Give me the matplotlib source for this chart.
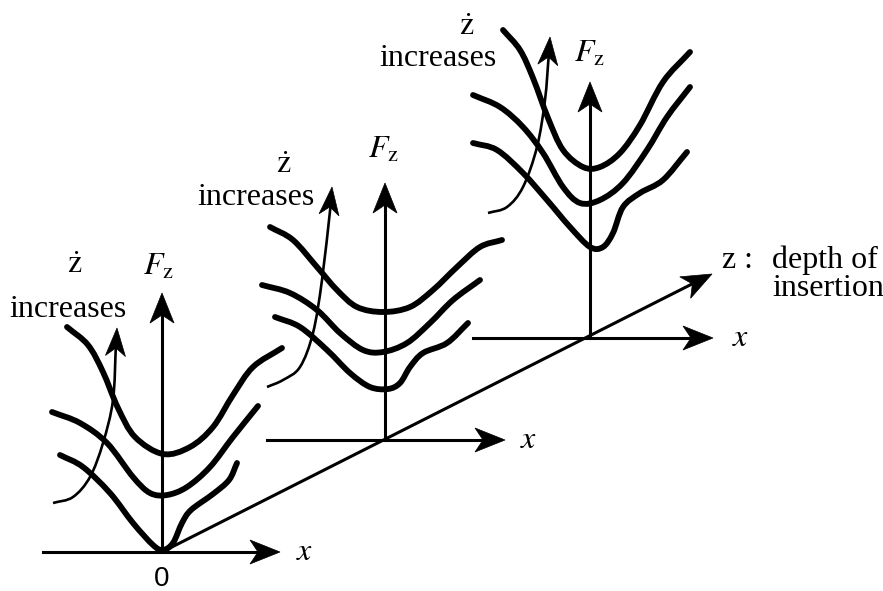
import numpy as np
import matplotlib.pyplot as plt
from matplotlib.path import Path
from matplotlib.patches import PathPatch, Polygon

plt.rcParams['mathtext.fontset'] = 'stix'
plt.rcParams['font.family'] = ['Liberation Serif', 'DejaVu Serif']

# picture coordinates (pixels, y downwards)
origins = [(162, 552), (385, 440), (590, 338)]
x_axis_left = [43, 267, 473]
x_axis_right = [280, 505, 713]
fz_axis_top = [293, 183, 82]
depth_start = (162, 552)
depth_tip = (712, 274)

# force curves, three per group (top, middle, bottom)
g1_top = [(67, 327), (88, 345), (103, 372), (118, 408), (135, 437), (163, 454), (190, 447),
          (213, 427), (233, 395), (253, 367), (282, 348)]
g1_mid = [(52, 412), (80, 423), (107, 443), (133, 477), (150, 493), (167, 495), (187, 487),
          (210, 467), (233, 437), (258, 406)]
g1_bot = [(60, 455), (83, 467), (110, 493), (133, 523), (153, 545), (163, 550), (173, 543),
          (182, 523), (191, 510), (213, 494), (229, 480), (237, 463)]
g2_top = [(270, 227), (293, 240), (317, 267), (337, 290), (357, 307), (383, 312), (410, 307),
          (433, 290), (457, 267), (480, 247), (502, 240)]
g2_mid = [(262, 285), (290, 293), (317, 310), (340, 333), (363, 350), (383, 352), (407, 343),
          (430, 323), (453, 300), (480, 280)]
g2_bot = [(275, 317), (300, 327), (327, 350), (350, 373), (370, 387), (388, 389), (400, 383),
          (410, 367), (423, 353), (447, 343), (468, 323)]
g3_top = [(503, 30), (520, 50), (533, 78), (548, 118), (563, 150), (583, 167), (600, 167),
          (620, 153), (640, 125), (663, 82), (690, 52)]
g3_mid = [(473, 95), (500, 107), (523, 127), (543, 153), (563, 187), (580, 203), (600, 200),
          (623, 183), (647, 150), (667, 117), (690, 87)]
g3_bot = [(473, 143), (497, 150), (523, 173), (547, 200), (570, 227), (590, 247), (603, 247),
          (613, 233), (623, 207), (640, 193), (663, 180), (687, 152)]

# "z-dot increases" arrows
g1_arrow = [(53, 503), (73, 497), (90, 477), (103, 443), (113, 400), (117, 328)]
g2_arrow = [(267, 387), (283, 380), (300, 367), (313, 333), (322, 280), (332, 187)]
g3_arrow = [(488, 213), (507, 207), (523, 187), (537, 147), (545, 100), (550, 37)]

# labels
zdot_pos = [(75, 273), (284, 173), (467, 35)]
incr_pos = [(68, 317), (256, 205), (438, 66)]
fz_pos = [(143, 275), (368, 158), (574, 62)]
xlab_pos = [(296, 552), (520, 440), (732, 338)]


def smooth_path(pts):
    # catmull-rom through the points, drawn as cubic beziers
    P = np.array(pts, dtype=float)
    n = len(P)
    ext = np.vstack([2 * P[0] - P[1], P, 2 * P[-1] - P[-2]])
    verts = [P[0]]
    codes = [Path.MOVETO]
    for i in range(n - 1):
        p0, p1, p2, p3 = ext[i], ext[i + 1], ext[i + 2], ext[i + 3]
        verts += [p1 + (p2 - p0) / 6, p2 - (p3 - p1) / 6, p2]
        codes += [Path.CURVE4] * 3
    return Path(verts, codes)


def arrow_head(ax, tip, frm, L=30, W=12, notch=8):
    tip = np.array(tip, dtype=float)
    d = tip - np.array(frm, dtype=float)
    d = d / np.hypot(*d)
    nrm = np.array([-d[1], d[0]])
    pts = [tip, tip - L * d + W * nrm, tip - (L - notch) * d, tip - L * d - W * nrm]
    ax.add_patch(Polygon(pts, closed=True, facecolor='black', edgecolor='black', lw=0.5))


fig = plt.figure(figsize=(8.83, 5.91), dpi=100)
ax = fig.add_axes([0, 0, 1, 1])
ax.set_xlim(0, 883)
ax.set_ylim(591, 0)
ax.axis('off')

axis_lw = 2.2
curve_lw = 4.2

# depth axis
ax.plot([depth_start[0], depth_tip[0] - 20], [depth_start[1], depth_tip[1] + 10],
        color='black', lw=axis_lw)
arrow_head(ax, depth_tip, depth_start)

for i in range(3):
    ox, oy = origins[i]
    ax.plot([x_axis_left[i], x_axis_right[i] - 15], [oy, oy], color='black', lw=axis_lw)
    arrow_head(ax, (x_axis_right[i], oy), (ox, oy))
    ax.plot([ox, ox], [oy, fz_axis_top[i] + 15], color='black', lw=axis_lw)
    arrow_head(ax, (ox, fz_axis_top[i]), (ox, oy))

for c in [g1_top, g1_mid, g1_bot, g2_top, g2_mid, g2_bot, g3_top, g3_mid, g3_bot]:
    ax.add_patch(PathPatch(smooth_path(c), fill=False, edgecolor='black', lw=curve_lw,
                           capstyle='round', joinstyle='round'))

for a in [g1_arrow, g2_arrow, g3_arrow]:
    ax.add_patch(PathPatch(smooth_path(a[:-1] + [(a[-1][0] - 1, a[-1][1] + 15)]), fill=False,
                           edgecolor='black', lw=1.9))
    arrow_head(ax, a[-1], a[-2], L=28, W=10)

fs = 23
for i in range(3):
    ax.text(*zdot_pos[i], r'$\dot{\mathrm{z}}$', fontsize=fs, ha='center', va='baseline')
    ax.text(*incr_pos[i], 'increases', fontsize=fs, ha='center', va='baseline')
    ax.text(*fz_pos[i], r'$F_{\mathrm{z}}$', fontsize=fs, ha='left', va='baseline')
    ax.text(*xlab_pos[i], r'$x$', fontsize=fs, ha='left', va='center')

ax.text(162, 586, '0', fontsize=20, ha='center', va='baseline', family='Liberation Sans')
ax.text(722, 268, 'z :', fontsize=fs, ha='left', va='baseline')
ax.text(772, 268, 'depth of', fontsize=fs, ha='left', va='baseline')
ax.text(772, 296, 'insertion', fontsize=fs, ha='left', va='baseline')

fig.savefig('out.png', dpi=100)
